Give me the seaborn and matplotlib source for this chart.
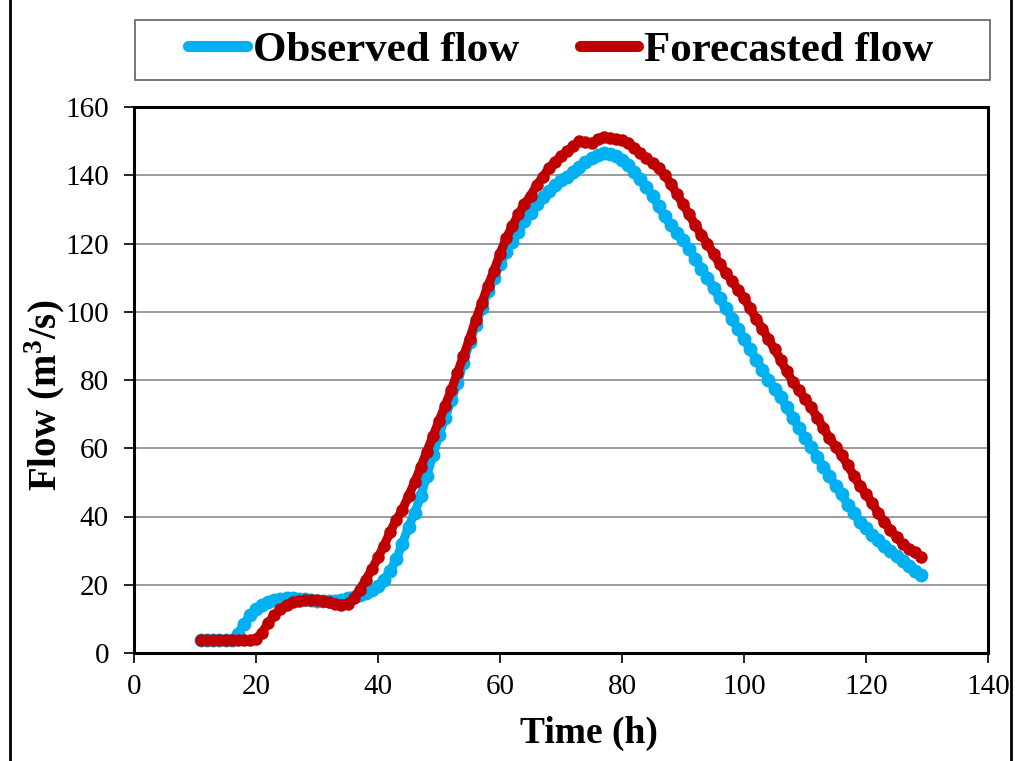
import numpy as np
import pandas as pd
import matplotlib
matplotlib.use("Agg")
import matplotlib.pyplot as plt
import seaborn as sns
from matplotlib.lines import Line2D

time_h = list(range(11, 130))

observed_flow = [
    3.8, 3.8, 3.8, 3.8, 3.8, 3.9, 5.5, 8.5, 11.0, 12.8,          # 11-20
    14.0, 14.8, 15.4, 15.8, 16.0, 16.0, 15.9, 15.7, 15.5, 15.3,   # 21-30
    15.2, 15.2, 15.3, 15.6, 16.0, 16.5, 17.0, 17.6, 18.5, 19.6,   # 31-40
    21.5, 24.0, 27.5, 32.0, 37.0, 41.0, 46.0, 52.0, 58.0, 64.0,   # 41-50
    69.0, 74.0, 79.0, 85.0, 91.0, 96.0, 101.0, 106.0, 110.0, 114.0,  # 51-60
    117.5, 120.5, 123.5, 126.5, 129.0, 131.5, 133.5, 135.5, 137.0, 138.5,  # 61-70
    139.5, 141.0, 142.5, 144.0, 145.0, 146.0, 146.5, 146.2, 145.5, 144.5,  # 71-80
    143.0, 141.0, 139.0, 136.5, 134.0, 131.0, 128.0, 125.5, 123.0, 121.0,  # 81-90
    118.5, 115.5, 112.5, 110.0, 107.0, 104.0, 101.0, 98.0, 95.0, 92.0,     # 91-100
    89.0, 86.0, 83.0, 80.0, 77.5, 75.0, 72.0, 69.0, 66.0, 63.0,            # 101-110
    60.5, 57.5, 54.5, 52.0, 49.0, 46.5, 43.5, 41.0, 38.5, 36.5,            # 111-120
    34.5, 33.0, 31.5, 30.0, 28.5, 27.0, 25.5, 24.0, 23.0,                  # 121-129
]

forecasted_flow = [
    3.8, 3.8, 3.8, 3.8, 3.8, 3.8, 3.8, 3.8, 3.8, 4.2,             # 11-20
    6.0, 8.8, 11.0, 12.8, 14.0, 14.8, 15.3, 15.5, 15.6, 15.5,     # 21-30
    15.3, 15.0, 14.5, 14.2, 14.5, 16.0, 18.5, 21.5, 24.5, 28.0,   # 31-40
    31.5, 35.5, 39.0, 42.0, 46.0, 50.0, 54.5, 59.0, 63.5, 68.0,   # 41-50
    72.5, 77.0, 82.0, 87.0, 92.0, 97.5, 102.5, 107.5, 112.0, 117.0,  # 51-60
    121.5, 125.0, 128.5, 131.5, 134.0, 137.0, 139.5, 142.0, 144.0, 145.5,  # 61-70
    147.0, 148.5, 150.0, 149.8, 149.5, 150.5, 151.2, 150.8, 150.5, 150.3,  # 71-80
    149.5, 148.0, 146.5, 145.0, 143.5, 142.0, 140.0, 137.5, 134.5, 131.5,  # 81-90
    128.5, 125.5, 122.5, 120.0, 117.0, 114.0, 111.5, 109.0, 106.5, 104.0,  # 91-100
    101.0, 98.0, 95.0, 92.0, 89.0, 86.0, 82.5, 79.5, 77.0, 74.5,           # 101-110
    72.0, 69.0, 66.0, 63.0, 60.5, 58.0, 55.0, 52.0, 49.0, 46.5,            # 111-120
    44.0, 41.0, 38.5, 36.0, 34.0, 32.0, 30.5, 29.5, 28.2,                  # 121-129
]

series_names = ["Observed flow", "Forecasted flow"]
series_colors = ["#00B0F0", "#C00000"]
x_ticks = [0, 20, 40, 60, 80, 100, 120, 140]
y_ticks = [0, 20, 40, 60, 80, 100, 120, 140, 160]

df_obs = pd.DataFrame({"Time": time_h, "Flow": observed_flow})
df_fc = pd.DataFrame({"Time": time_h, "Flow": forecasted_flow})

sns.set_style("white")
plt.rcParams["font.family"] = ["Liberation Serif", "DejaVu Serif"]
plt.rcParams["mathtext.fontset"] = "custom"
plt.rcParams["mathtext.rm"] = "Liberation Serif"
plt.rcParams["mathtext.bf"] = "Liberation Serif:bold"
plt.rcParams["text.color"] = "black"
plt.rcParams["axes.labelcolor"] = "black"

W, H = 1015, 761
fig = plt.figure(figsize=(W / 100, H / 100), dpi=100)
ax = fig.add_axes([134 / W, 1 - 653 / H, (988 - 134) / W, (653 - 107) / H])

sns.lineplot(data=df_obs, x="Time", y="Flow", color=series_colors[0], ax=ax,
             linewidth=6.5, marker="o", markersize=10, markeredgewidth=0, sort=False)
sns.lineplot(data=df_fc, x="Time", y="Flow", color=series_colors[1], ax=ax,
             linewidth=6.5, marker="o", markersize=9, markeredgewidth=0, sort=False)

ax.set_xlim(0, 140)
ax.set_ylim(0, 160)
ax.set_xticks(x_ticks)
ax.set_yticks(y_ticks)
ax.tick_params(axis="both", labelsize=21, direction="out", length=7, width=1.2,
               colors="black", left=True, bottom=True)
ax.tick_params(axis="x", pad=8)
ax.tick_params(axis="y", pad=11)
ax.grid(axis="y", color="#808080", linewidth=1.1)
ax.grid(axis="x", visible=False)
ax.set_axisbelow(True)
for s in ax.spines.values():
    s.set_visible(True)
    s.set_color("black")
    s.set_linewidth(2.2)

ax.set_xlabel("Time (h)", fontsize=27, fontweight="bold")
ax.set_ylabel(r"Flow (m$^{\mathbf{3}}$/s)", fontsize=28, fontweight="bold")
ax.xaxis.set_label_coords((589 - 134) / 854, (653 - 716) / 546)
ax.yaxis.set_label_coords((68 - 134) / 854, (653 - 395) / 546)

handles = [Line2D([0], [0], color=c, linewidth=8, marker="o", markersize=6) for c in series_colors]
leg = fig.legend(handles, series_names, loc="center", bbox_to_anchor=(561 / W, 1 - 50 / H),
                 ncol=2, frameon=False, handlelength=1.35, handletextpad=0.15,
                 columnspacing=1.4, prop={"family": "Liberation Serif", "weight": "bold", "size": 31},
                 borderpad=0.25, borderaxespad=0)

# legend box
fig.patches.append(plt.Rectangle((135 / W, 1 - 80 / H), (990 - 135) / W, 60 / H, transform=fig.transFigure,
                                 fill=False, edgecolor="#606060", linewidth=1.2))
# figure border
fig.patches.append(plt.Rectangle((10 / W, -0.01), (1011 - 10) / W, 1.02, transform=fig.transFigure,
                                 fill=False, edgecolor="black", linewidth=2))

fig.savefig("out.png", dpi=100)
